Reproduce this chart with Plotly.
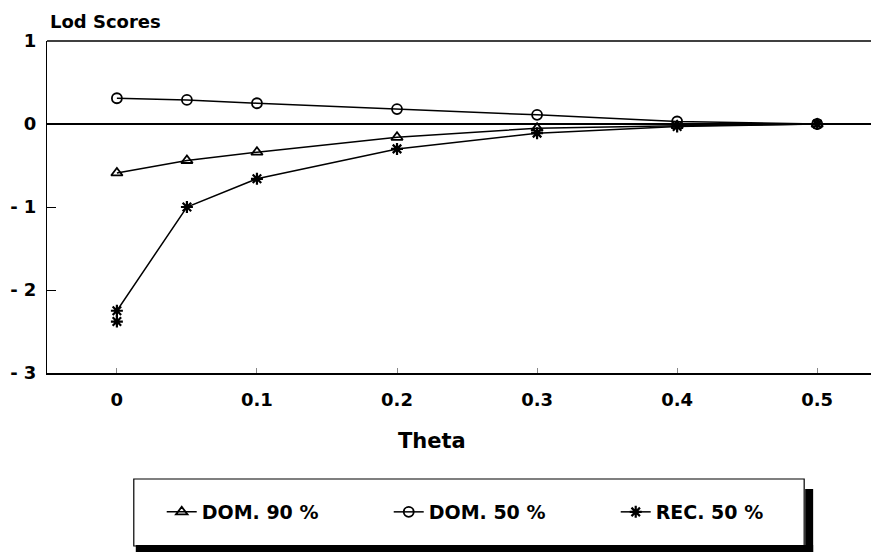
import plotly.graph_objects as go

# ---- data ----
theta = [0, 0.05, 0.1, 0.2, 0.3, 0.4, 0.5]
dom90 = [-0.59, -0.44, -0.34, -0.16, -0.05, -0.02, 0.0]
dom50 = [0.31, 0.29, 0.25, 0.18, 0.11, 0.03, 0.0]
rec50_theta = [0, 0, 0.05, 0.1, 0.2, 0.3, 0.4, 0.5]
rec50 = [-2.38, -2.25, -1.0, -0.66, -0.30, -0.11, -0.03, 0.0]
series_names = ["DOM. 90 %", "DOM. 50 %", "REC. 50 %"]
x_ticks = [0, 0.1, 0.2, 0.3, 0.4, 0.5]
x_ticklabels = ["0", "0.1", "0.2", "0.3", "0.4", "0.5"]
y_ticks = [1, 0, -1, -2, -3]
y_ticklabels = ["1", "0", "- 1", "- 2", "- 3"]

# page has an 8px body margin; compensate
OFF = 8
W, H = 879 - OFF, 552 - OFF
L, R, T, B = 45 - OFF, 2, 41 - OFF, 552 - 373
FONT = "DejaVu Sans, Liberation Sans, Arial, sans-serif"

def px(x):  # screen x -> paper
    return (x - OFF - L) / (W - L - R)

def py(y):  # screen y -> paper
    return (H - B - (y - OFF)) / (H - T - B)

fig = go.Figure()
line = dict(color="black", width=1.5)
fig.add_trace(go.Scatter(x=theta, y=dom90, name=series_names[0], mode="lines+markers",
                         line=line, marker=dict(symbol="triangle-up-open", size=10, color="black",
                                                line=dict(width=1.8, color="black"))))
fig.add_trace(go.Scatter(x=theta, y=dom50, name=series_names[1], mode="lines+markers",
                         line=line, marker=dict(symbol="circle-open", size=10, color="black",
                                                line=dict(width=1.8, color="black"))))
fig.add_trace(go.Scatter(x=rec50_theta, y=rec50, name=series_names[2], mode="lines+markers",
                         line=line, marker=dict(symbol="asterisk-open", size=10, color="black",
                                                line=dict(width=2.2, color="black"))))

shapes = [
    dict(type="line", xref="paper", yref="paper", x0=0, x1=1, y0=1, y1=1,
         line=dict(color="black", width=1.5)),
    dict(type="rect", xref="paper", yref="paper", x0=px(132), x1=px(804), y0=py(479), y1=py(546),
         line=dict(color="black", width=1.2), fillcolor="rgba(0,0,0,0)"),
    dict(type="rect", xref="paper", yref="paper", x0=px(805), x1=px(813), y0=py(489), y1=py(552),
         line=dict(width=0), fillcolor="black"),
    dict(type="rect", xref="paper", yref="paper", x0=px(134), x1=px(813), y0=py(545), y1=py(552),
         line=dict(width=0), fillcolor="black"),
]

annotations = [
    dict(text="Lod Scores", xref="paper", yref="paper", x=px(46), y=py(22), xanchor="left",
         yanchor="middle", showarrow=False, font=dict(family=FONT, size=18, color="black", weight="bold")),
    dict(text="Theta", xref="paper", yref="paper", x=px(431), y=py(441), xanchor="center",
         yanchor="middle", showarrow=False, font=dict(family=FONT, size=21, color="black", weight="bold")),
]

fig.update_layout(
    width=W, height=H,
    margin=dict(l=L, r=R, t=T, b=B),
    paper_bgcolor="white", plot_bgcolor="white",
    font=dict(family=FONT, color="black"),
    showlegend=True,
    legend=dict(orientation="h", x=px(160), y=py(512), xanchor="left", yanchor="middle",
                bgcolor="rgba(0,0,0,0)", borderwidth=0,
                font=dict(family=FONT, size=19, color="black", weight="bold"),
                entrywidth=182, entrywidthmode="pixels"),
    shapes=shapes,
    annotations=annotations,
    xaxis=dict(range=[-0.0499, 0.5427], tickvals=x_ticks, ticktext=x_ticklabels,
               showgrid=False, zeroline=False, showline=True, linecolor="black", linewidth=1.5,
               ticks="inside", ticklen=5, tickwidth=1, tickcolor="#888",
               ticklabelstandoff=10,
               tickfont=dict(family=FONT, size=18, color="black", weight="bold")),
    yaxis=dict(range=[-3, 1], tickvals=y_ticks, ticktext=y_ticklabels,
               showgrid=False, zeroline=True, zerolinecolor="black", zerolinewidth=1.5,
               showline=True, linecolor="black", linewidth=1,
               ticks="inside", ticklen=9, tickwidth=1, tickcolor="black",
               ticklabelstandoff=6,
               tickfont=dict(family=FONT, size=18, color="black", weight="bold")),
)

fig.write_html("out.html")
